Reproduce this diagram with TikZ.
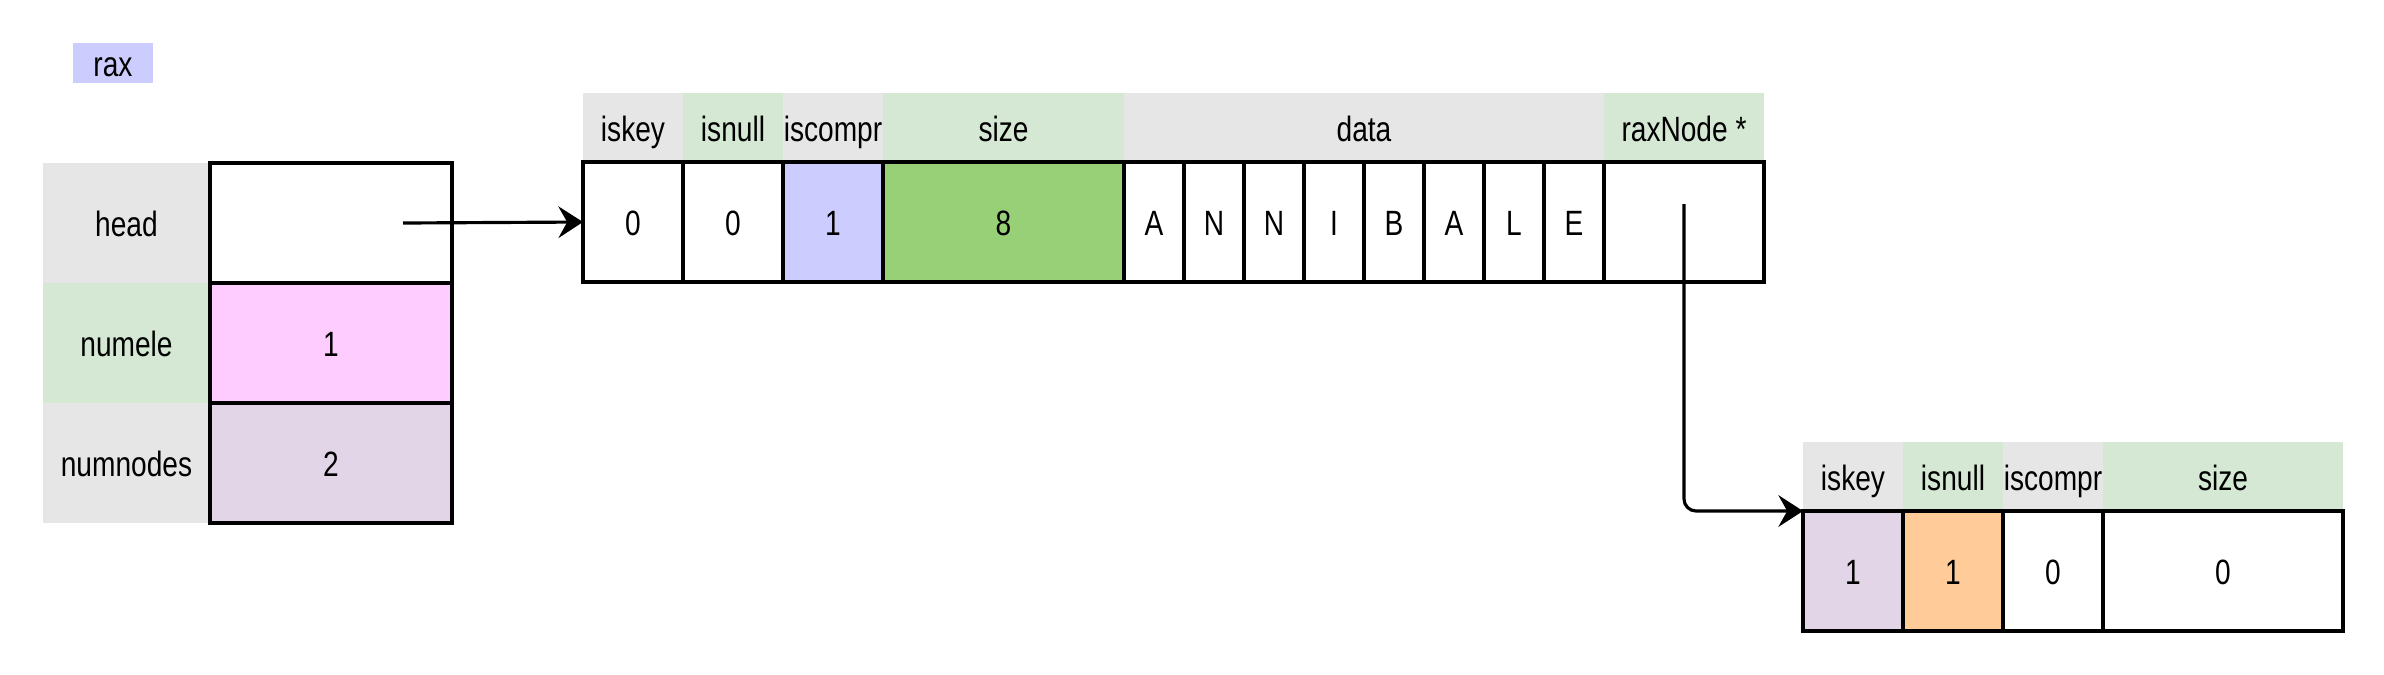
\documentclass[tikz,border=0pt]{standalone}
\usepackage{fontspec}
\setmainfont[FakeStretch=0.8]{Liberation Sans}
\usepackage{xcolor}
\usetikzlibrary{arrows.meta, positioning}

\definecolor{hdrgrey}{HTML}{E6E6E6}
\definecolor{hdrgreen}{HTML}{D5E8D4}
\definecolor{lavender}{HTML}{CCCCFF}
\definecolor{leafgreen}{HTML}{97D077}
\definecolor{pinkfill}{HTML}{FFCCFF}
\definecolor{mauve}{HTML}{E1D5E7}
\definecolor{peach}{HTML}{FFCC99}

\begin{document}
\begin{tikzpicture}[
  font=\fontsize{10}{12}\selectfont,
  txt/.style={text height=1.8ex, text depth=0.3ex},
  cell/.style={txt, draw, line width=0.9pt, minimum height=1.2cm,
               minimum width=1cm, inner sep=0pt, outer sep=0pt},
  hdr/.style={txt, minimum height=0.69cm, minimum width=1cm,
              inner sep=0pt, outer sep=0pt},
  lbl/.style={txt, minimum height=1.2cm, minimum width=1.67cm,
              inner sep=0pt, outer sep=0pt},
  grey/.style={fill=hdrgrey},
  green/.style={fill=hdrgreen},
  arr/.style={-{Stealth[length=7pt, width=9pt, inset=2.5pt]}, line width=0.9pt},
]
\useasboundingbox (0,0) rectangle (23.84,-6.74);

% rax struct
\node[txt, fill=lavender, minimum width=0.8cm, minimum height=0.4cm,
      inner sep=0pt] (rax) at (1.13,-0.63) {rax};
\node[lbl, grey, anchor=north west] (headlbl) at (0.43,-1.63) {head};
\node[lbl, green, below=0pt of headlbl] (numelelbl) {numele};
\node[lbl, grey, below=0pt of numelelbl] (numnodeslbl) {numnodes};
\node[cell, minimum width=2.42cm, right=0pt of headlbl] (headval) {};
\node[cell, fill=pinkfill, minimum width=2.42cm, right=0pt of numelelbl] (numeleval) {1};
\node[cell, fill=mauve, minimum width=2.42cm, right=0pt of numnodeslbl] (numnodesval) {2};

% first raxNode
\node[hdr, grey, anchor=south west] (iskeyAh) at (5.83,-1.62) {iskey};
\node[hdr, green, right=0pt of iskeyAh] (isnullAh) {isnull};
\node[hdr, grey, right=0pt of isnullAh] (iscomprAh) {iscompr};
\node[hdr, green, minimum width=2.41cm, right=0pt of iscomprAh] (sizeAh) {size};
\node[hdr, grey, minimum width=4.8cm, right=0pt of sizeAh] (dataAh) {data};
\node[hdr, green, minimum width=1.6cm, right=0pt of dataAh] (ptrAh) {raxNode *};

\node[cell, below=0pt of iskeyAh] (iskeyA) {0};
\node[cell, below=0pt of isnullAh] (isnullA) {0};
\node[cell, fill=lavender, below=0pt of iscomprAh] (iscomprA) {1};
\node[cell, fill=leafgreen, minimum width=2.41cm, below=0pt of sizeAh] (sizeA) {8};
\coordinate (l0) at (sizeA.east);
\foreach \ch [count=\i, remember=\i as \j (initially 0)] in {A,N,N,I,B,A,L,E}
  \node[cell, minimum width=0.6cm, right=0pt of l\j] (l\i) {\ch};
\node[cell, minimum width=1.6cm, right=0pt of l8] (ptrA) {};

% second raxNode
\node[hdr, grey, anchor=south west] (iskeyBh) at (18.03,-5.11) {iskey};
\node[hdr, green, right=0pt of iskeyBh] (isnullBh) {isnull};
\node[hdr, grey, right=0pt of isnullBh] (iscomprBh) {iscompr};
\node[hdr, green, minimum width=2.4cm, right=0pt of iscomprBh] (sizeBh) {size};

\node[cell, fill=mauve, below=0pt of iskeyBh] (iskeyB) {1};
\node[cell, fill=peach, below=0pt of isnullBh] (isnullB) {1};
\node[cell, below=0pt of iscomprBh] (iscomprB) {0};
\node[cell, minimum width=2.4cm, below=0pt of sizeBh] (sizeB) {0};

% pointers
\draw[arr] ([xshift=-0.49cm]headval.east) -- (iskeyA.west);
\draw[arr, rounded corners=0.12cm] ([yshift=0.18cm]ptrA.center) |- (iskeyB.north west);
\end{tikzpicture}
\end{document}
